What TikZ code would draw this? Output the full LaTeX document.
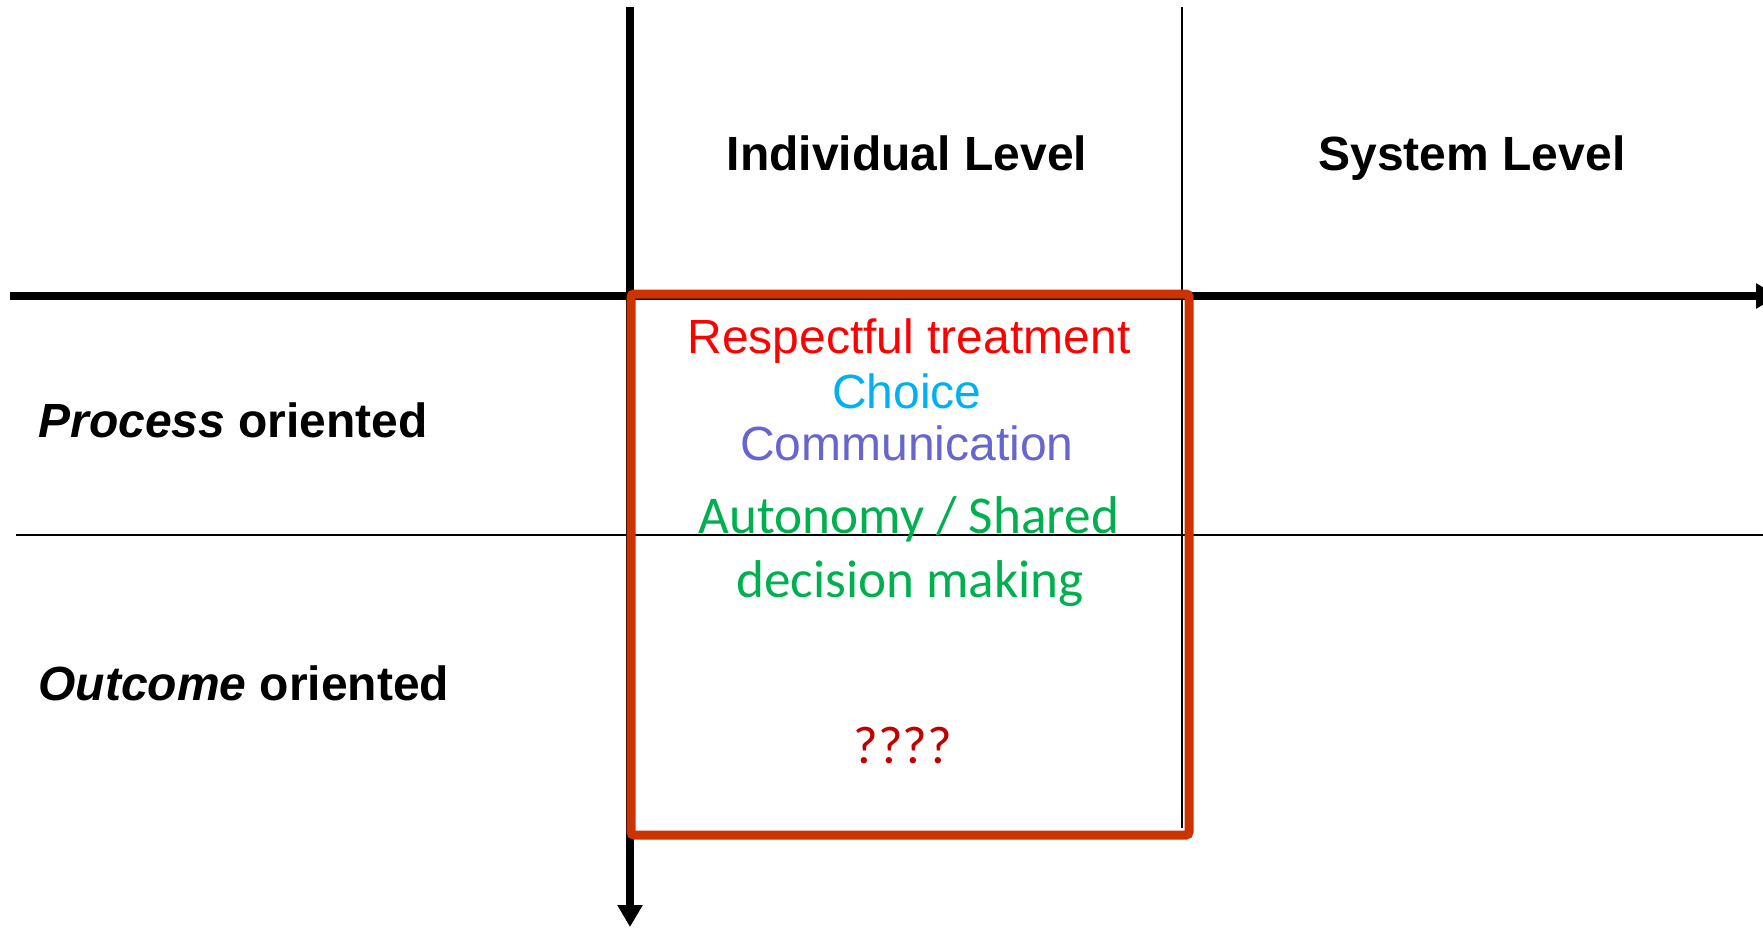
\documentclass[tikz,border=0pt]{standalone}
\usepackage{fontspec}
\setmainfont{Liberation Sans}
\newfontfamily\calibri{Carlito}
\usetikzlibrary{positioning, calc, arrows.meta}

\definecolor{boxred}{RGB}{204,51,0}
\definecolor{txtred}{RGB}{255,0,0}
\definecolor{txtcyan}{RGB}{0,176,240}
\definecolor{txtblue}{RGB}{102,102,204}
\definecolor{txtgreen}{RGB}{0,176,80}
\definecolor{txtdark}{RGB}{192,0,0}

\begin{document}
\begin{tikzpicture}[
		x=0.5pt, y=-0.5pt,
		axis/.style={line width=4pt, -{Triangle[length=11pt, width=12pt]}},
		grid/.style={line width=1pt},
		head/.style={anchor=base, font=\bfseries\fontsize{24}{28}\selectfont},
		rowlabel/.style={anchor=base west, inner sep=0pt, font=\bfseries\fontsize{24}{28}\selectfont},
		item/.style={anchor=base, font=\fontsize{24}{28}\selectfont},
		calitem/.style={anchor=base, font=\calibri\fontsize{26.6}{30}\selectfont}
	]
		\useasboundingbox (0, 0) rectangle (1763, 928);
		
		% axes and grid
		\coordinate (origin) at (630, 296);
		\coordinate (xend) at (1778, 296);
		\coordinate (yend) at (630, 927);
		\draw[grid] (1182, 7) -- (1182, 828);
		\draw[grid] (16, 535) -- (1763, 535);
		\draw[axis] (10, 296) -- (xend);
		\draw[axis] (630, 7) -- (yend);
		
		% column heads
		\node[head] (indiv) at (907, 170) {Individual Level};
		\node[head] (system) at (1472, 170) {System Level};
		
		% row labels
		\node[rowlabel] (process) at (38, 437) {\textit{Process} oriented};
		\node[rowlabel] (outcome) at (38, 700) {\textit{Outcome} oriented};
		
		% highlighted cell
		\draw[boxred, line width=4.5pt, rounded corners=1.5pt] (631, 294) rectangle (1189, 835);
		\node[item, text=txtred] (respect) at (909, 353) {Respectful treatment};
		\node[item, text=txtcyan] (choice) at (907, 408) {Choice};
		\node[item, text=txtblue] (comm) at (907, 460) {Communication};
		\node[calitem, text=txtgreen] (autonomy) at (909, 533) {Autonomy / Shared};
		\node[calitem, text=txtgreen] (decision) at (910, 597) {decision making};
		\node[calitem, text=txtdark] (unknown) at (903, 763) {????};
	\end{tikzpicture}
\end{document}
